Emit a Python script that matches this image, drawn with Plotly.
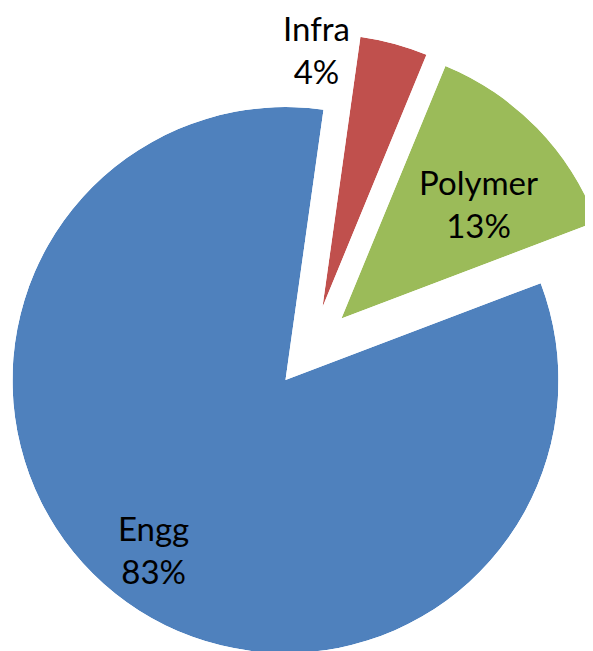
import math
import plotly.graph_objects as go

# slice data, clockwise from the top
labels = ["Infra", "Polymer", "Engg"]
values = [4, 13, 83]
colors = ["#C0504D", "#9BBB59", "#4F81BD"]

W, H = 593, 651
OFF = 8            # page body margin: the figure sits 8px in from the window corner
R = 273            # pie radius, px
CX, CY = 311.5 - OFF, 347.5 - OFF  # common pie centre before explosion, px
EXPLODE = 41.7     # every slice is pushed out this far, px
START = 8          # first slice starts this many degrees clockwise from 12 o'clock

# label block centres (window px)
label_pos = {"Infra": (316, 50), "Polymer": (479, 204), "Engg": (153, 549)}
FONT = "Lato, Calibri, sans-serif"


def sector_bbox(a0, a1):
    """bbox (unit radius, y up) of a wedge from a0 to a1 degrees ccw, incl. centre"""
    pts = [(0.0, 0.0)]
    for a in [a0, a1] + [k * 90 for k in range(-4, 9) if a0 < k * 90 < a1]:
        pts.append((math.cos(math.radians(a)), math.sin(math.radians(a))))
    xs, ys = zip(*pts)
    return min(xs), min(ys), max(xs), max(ys)


total = sum(values)
fig = go.Figure()
layout_polars = {}
acc = START
for i, (lab, v, col) in enumerate(zip(labels, values, colors)):
    span = 360 * v / total
    mid = acc + span / 2
    # exploded centre of this slice
    cx = CX + EXPLODE * math.sin(math.radians(mid))
    cy = CY - EXPLODE * math.cos(math.radians(mid))
    # sector in plotly polar convention (ccw from 3 o'clock)
    s0, s1 = 90 - (acc + span), 90 - acc
    x0, y0, x1, y1 = sector_bbox(s0, s1)
    dom_x = [max(0, (cx + R * x0) / W), min(1, (cx + R * x1) / W)]
    dom_y = [max(0, 1 - (cy - R * y0) / H), min(1, 1 - (cy - R * y1) / H)]
    key = "polar" if i == 0 else f"polar{i + 1}"
    layout_polars[key] = dict(
        domain=dict(x=dom_x, y=dom_y),
        sector=[s0, s1],
        bgcolor="rgba(0,0,0,0)",
        radialaxis=dict(visible=False, range=[0, 1]),
        angularaxis=dict(visible=False, rotation=90, direction="clockwise"),
    )
    fig.add_trace(
        go.Barpolar(
            r=[1], theta=[mid], width=[span],
            marker=dict(color=col, line=dict(width=0)),
            subplot=key, name=lab, showlegend=False, hoverinfo="skip",
        )
    )
    acc += span

    x, y = label_pos[lab]
    fig.add_annotation(
        x=(x - OFF) / W, y=1 - (y - OFF) / H, xref="paper", yref="paper",
        text=f"{lab}<br>{round(100 * v / total)}%",
        showarrow=False, xanchor="center", yanchor="middle",
        font=dict(family=FONT, size=33, color="#000000"),
    )

fig.update_layout(
    width=W, height=H,
    margin=dict(l=0, r=0, t=0, b=0),
    paper_bgcolor="white",
    **layout_polars,
)

fig.write_html("out.html")
